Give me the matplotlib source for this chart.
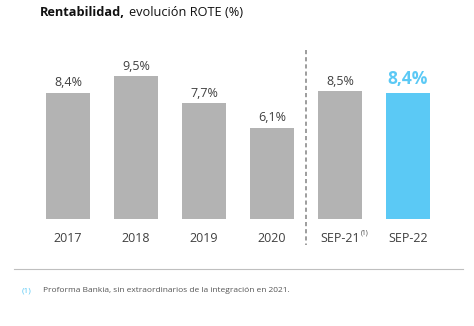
import matplotlib
matplotlib.use("Agg")
import matplotlib.pyplot as plt

categories = ["2017", "2018", "2019", "2020", "SEP-21", "SEP-22"]
rote = [8.4, 9.5, 7.7, 6.1, 8.5, 8.4]
value_labels = ["8,4%", "9,5%", "7,7%", "6,1%", "8,5%", "8,4%"]

GREY = "#b3b3b3"
BLUE = "#5bc9f5"
TEXT = "#404040"
FONT = "Open Sans"

W, H = 474, 326
fig = plt.figure(figsize=(W / 100, H / 100), dpi=100)
plt.rcParams["font.family"] = [FONT, "DejaVu Sans"]

# axes: x from px 34 to 442, baseline at px 219, top at px 45
ax = fig.add_axes([34 / W, (H - 219) / H, 408 / W, 174 / H])
ax.set_xlim(-0.5, 5.5)
ax.set_ylim(0, 174 / 15)
ax.axis("off")

colors = [GREY] * 5 + [BLUE]
xs = list(range(len(categories)))
ax.bar(xs, rote, width=44 / 68, color=colors)

for i, (v, lab) in enumerate(zip(rote, value_labels)):
    if i == len(rote) - 1:
        ax.text(i, v + 0.3, lab, ha="center", va="bottom", fontsize=12.5,
                fontweight="bold", color=BLUE)
    else:
        ax.text(i, v + 0.25, lab, ha="center", va="bottom", fontsize=9,
                color=TEXT)

renderer = fig.canvas.get_renderer()
tick_texts = []
for i, c in enumerate(categories):
    tick_texts.append(ax.text(i, -1.3, c, ha="center", va="center",
                              fontsize=9, color=TEXT))

# footnote marker after SEP-21
bb = tick_texts[4].get_window_extent(renderer)
fig.text((bb.x1 + 0.5) / W, (bb.y1 - 1) / H, "(1)", ha="left", va="center",
         fontsize=4.8, color=TEXT)

# separator between annual and quarterly figures
ax.plot([3.5, 3.5], [11.27, -1.73], linestyle=(0, (2.5, 1.8)),
        color="#8c8c8c", linewidth=1.2, clip_on=False)

# title
t1 = fig.text(40 / W, 1 - 13 / H, "Rentabilidad,", fontsize=9.2,
              fontweight="bold", color="#111111", va="center", ha="left")
tb = t1.get_window_extent(renderer)
fig.text((tb.x1 + 4) / W, 1 - 13 / H, "evolución ROTE (%)", fontsize=9.2,
         color="#111111", va="center", ha="left")

# footnote
fig.add_artist(plt.Line2D([14 / W, 463 / W], [1 - 269 / H, 1 - 269 / H],
                          color="#bfbfbf", linewidth=0.8))
fig.text(22 / W, 1 - 291 / H, "(1)", fontsize=6, color=BLUE, va="center")
fig.text(43 / W, 1 - 291 / H,
         "Proforma Bankia, sin extraordinarios de la integración en 2021.",
         fontsize=6, color="#555555", va="center")

fig.savefig("out.png", dpi=100)
